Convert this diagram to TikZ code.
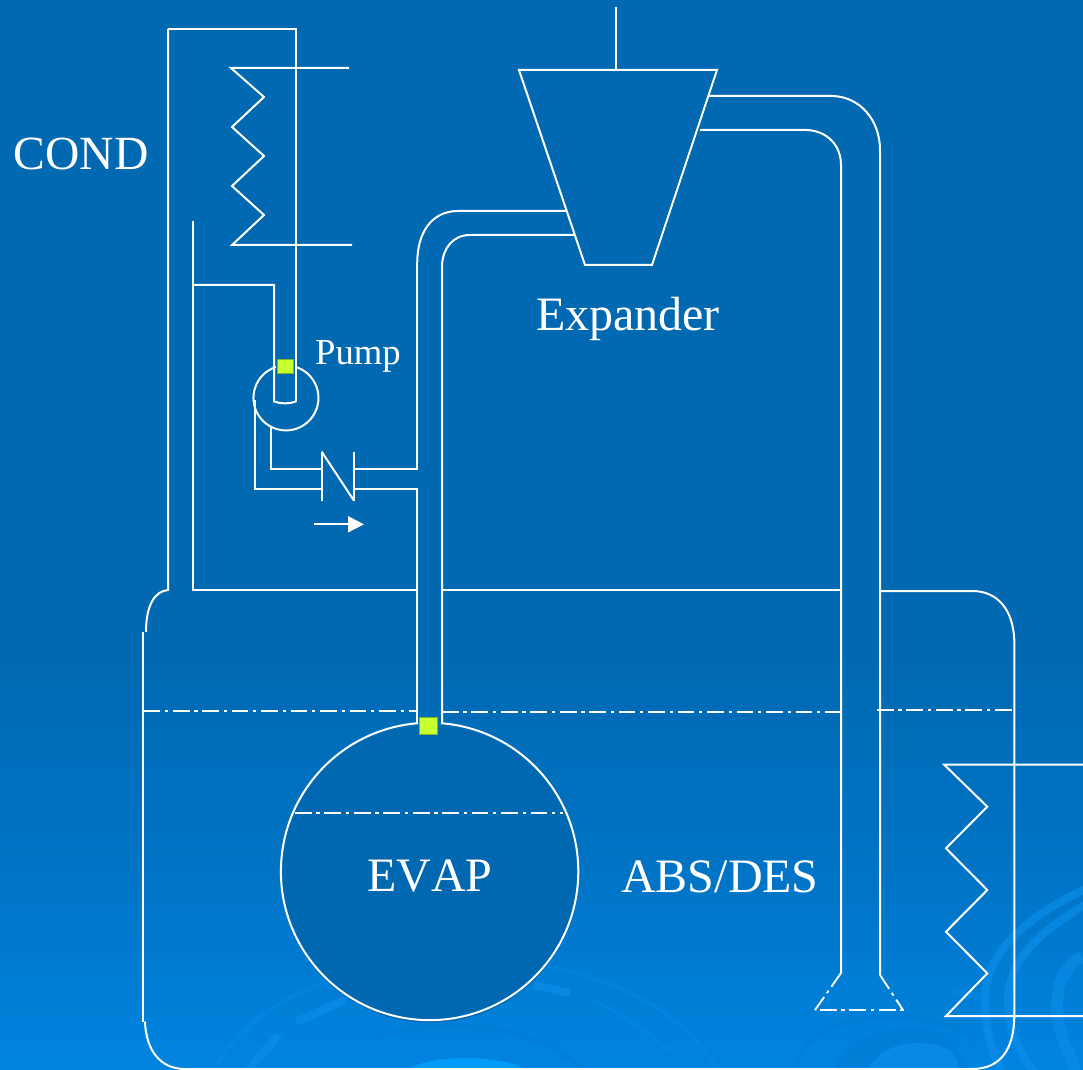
\documentclass[tikz,border=0pt]{standalone}
\usepackage{fontspec}
\setmainfont{Liberation Serif}
\usetikzlibrary{arrows.meta}
\definecolor{bgtop}{HTML}{0069B2}
\definecolor{bgmid}{HTML}{0073C4}
\definecolor{bgbot}{HTML}{0084E0}
\definecolor{swirl}{HTML}{0A8CE8}
\definecolor{swirldark}{HTML}{0078D0}
\definecolor{spot}{HTML}{009CF8}
\definecolor{tank}{HTML}{0068B0}
\definecolor{marker}{HTML}{C8FF2E}
\pgfdeclareverticalshading{bgfade}{100bp}{color(0bp)=(bgbot); color(25bp)=(bgbot); color(34.8bp)=(bgmid); color(44.6bp)=(bgtop); color(100bp)=(bgtop)}
\tikzset{
  pipe/.style={draw=white,line width=1.5pt,line join=miter},
  level/.style={draw=white,line width=1.4pt,dash pattern=on 12.5pt off 3.6pt on 2.4pt off 3.6pt},
  tag/.style={text=white,anchor=base,inner sep=0pt,font=\fontsize{36}{36}\selectfont},
  smalltag/.style={text=white,anchor=base,inner sep=0pt,font=\fontsize{27.5}{27.5}\selectfont},
  sensor/.style={fill=marker,draw=marker!70!black,line width=.4pt},
  glow/.style={draw=swirl,line width=6pt,opacity=.75},
  wideglow/.style={draw=swirl,line width=9pt,opacity=.65},
  faint/.style={draw=swirl,line width=3pt,opacity=.35},
  shadow/.style={draw=swirldark,line width=4pt,opacity=.3},
}
\begin{document}
\begin{tikzpicture}[x=0.75pt,y=-0.75pt]
\useasboundingbox (0,0) rectangle (1083,1070);
\shade[shading=bgfade] (0,0) rectangle (1083,1070);
% faint background swirls
\begin{scope}
\clip (0,0) rectangle (1083,1070);
\draw[glow] (1090,887) .. controls (1040,910) and (985,945) .. (985,1000) .. controls (985,1030) and (992,1050) .. (1003,1075);
\draw[glow] (1090,902) .. controls (1050,925) and (1008,955) .. (1008,1000) .. controls (1008,1030) and (1020,1055) .. (1037,1075);
\draw[wideglow] (1082,957) .. controls (1065,965) and (1057,985) .. (1057,1005) .. controls (1057,1030) and (1068,1050) .. (1077,1075);
\draw[faint] (214,1070) .. controls (235,1030) and (275,1000) .. (325,983);
\draw[glow] (248,1070) -- (279,1035);
\draw[glow] (296,1022) -- (345,1000);
\draw[glow] (534,985) -- (570,993);
\draw[faint] (548,967) .. controls (620,980) and (680,1010) .. (718,1070);
\draw[faint] (592,1000) .. controls (625,1015) and (650,1035) .. (670,1052);
\draw[glow,opacity=.4] (952,990) -- (980,997);
\draw[shadow] (374,1037) .. controls (420,1022) and (530,1015) .. (582,1070);
\draw[shadow] (796,1070) .. controls (800,1040) and (830,1022) .. (870,1018) .. controls (910,1014) and (950,1020) .. (975,1040);
\fill[swirldark,opacity=.35] (834,1070) .. controls (840,1040) and (880,1027) .. (920,1027) .. controls (945,1028) and (960,1050) .. (968,1070) -- cycle;
\fill[swirl,opacity=.8] (868,1070) .. controls (880,1045) and (915,1035) .. (950,1050) .. controls (955,1055) and (958,1062) .. (960,1070) -- cycle;
\fill[spot] (408,1070) .. controls (430,1054) and (500,1054) .. (527,1070) -- cycle;
\end{scope}
% evaporator vessel
\fill[tank] (429.6,874) circle[radius=148.7];
\draw[pipe] (441,723.2) arc[start angle=-85.6,end angle=265.6,radius=148.7];
% absorber / desorber vessel
\draw[pipe] (168,29) -- (296,29) -- (296,401.5);
\draw[pipe] (168,29) -- (168,590) .. controls (155,591) and (146,605) .. (146,632);
\draw[pipe] (143.4,632) -- (143.4,1021.5);
\draw[pipe] (145,1021.5) .. controls (146,1050) and (160,1069) .. (185,1069) -- (972,1069) .. controls (1000,1069) and (1014,1050) .. (1014.3,1016);
\draw[pipe] (1014.3,1018) -- (1014.3,640) .. controls (1013,610) and (998,591) .. (972,591) -- (880,591);
% condenser coil
\draw[pipe] (349,68) -- (231,68) -- (264,97) -- (232,127) -- (264,156) -- (232,186) -- (264,215) -- (232,245) -- (352,245);
% condensate and return lines
\draw[pipe] (193,221) -- (193,590) -- (417,590);
\draw[pipe] (193,285) -- (274,285) -- (274,401.5) .. controls (281,404) and (289,404) .. (296,401.5);
\draw[pipe] (442,590) -- (841,590);
% feed pump
\draw[pipe] (296,367) arc[start angle=-72,end angle=252,radius=32.5];
\draw[pipe] (254.5,400) -- (254.5,488.7) -- (321.7,488.7);
\draw[pipe] (271,426.7) -- (271,468.7) -- (321.7,468.7);
\node[smalltag] (pump) at (358,364) {Pump};
% check valve
\draw[pipe] (321.7,451.7) -- (321.7,500.7);
\draw[pipe] (321.7,451.7) -- (354,500.7);
\draw[pipe] (354,451.7) -- (354,500.7);
\draw[pipe] (354,468.7) -- (417.3,468.7) -- (417.3,262);
\draw[pipe] (354,489) -- (417,489) -- (417,723.3);
\draw[pipe,-{Triangle[length=12pt,width=12pt]}] (314,524.3) -- (364,524.3);
% riser to expander
\draw[pipe] (417.3,262) .. controls (417.5,232) and (432,211) .. (458,211) -- (566,211);
\draw[pipe] (442,723.3) -- (442,265) .. controls (443,248) and (453,235) .. (470,235) -- (575,235);
% expander
\draw[pipe] (519,70) -- (717,70) -- (652,265) -- (585,265) -- cycle;
\draw[pipe] (616,7) -- (616,70);
\draw[pipe] (708,96) -- (833,96) .. controls (860,97) and (880,120) .. (880,150) -- (880,975);
\draw[pipe] (700,130) -- (807,130) .. controls (827,131) and (841,145) .. (841,165) -- (841,973);
% nozzle
\draw[level] (841,973) -- (815,1010);
\draw[level] (880,975) -- (903,1010);
\draw[level] (820,1010) -- (904,1010);
% liquid levels
\draw[level] (143.4,711) -- (417,711);
\draw[level] (442,712) -- (843,712);
\draw[level] (877,710) -- (1013,710);
\draw[level] (295,813) -- (563,813);
% absorber coil
\draw[pipe] (1083,764.5) -- (944,764.5) -- (987.3,806.7) -- (946,848.3) -- (987.3,890) -- (946,931.7) -- (987.3,973.3) -- (946,1016) -- (1083,1016);
% sensors
\draw[sensor] (277.7,359.3) rectangle (293,373.3);
\draw[sensor] (419.3,717.3) rectangle (437.3,734);
% labels
\node[tag,font=\fontsize{35.7}{36}\selectfont] (cond) at (81,170) {COND};
\node[tag] (expander) at (628,330.5) {Expander};
\node[tag,font=\fontsize{36}{36}\selectfont\addfontfeature{Kerning=Off}] (evap) at (430,891) {EVAP};
\node[tag] (absdes) at (720,892) {ABS/DES};
\end{tikzpicture}
\end{document}
